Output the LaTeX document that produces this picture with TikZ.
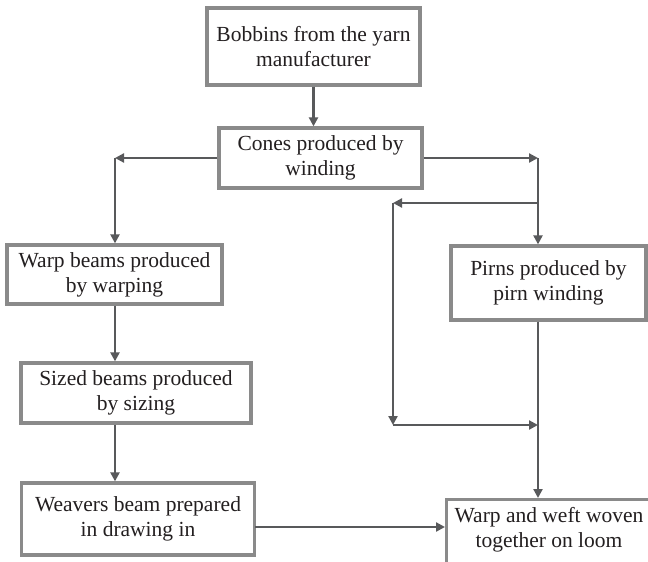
\documentclass[tikz,border=0pt]{standalone}
\usepackage{fontspec}
\setmainfont{Liberation Serif}
\usetikzlibrary{arrows.meta}
\definecolor{boxgray}{HTML}{8A8A8A}
\definecolor{linegray}{HTML}{58595B}
\definecolor{txtcol}{HTML}{231F20}
\begin{document}
\begin{tikzpicture}[x=1pt,y=-1pt,
  box/.style={draw=boxgray, line width=3.3pt, fill=white, align=center, text=txtcol,
    font=\fontsize{21.5}{25}\selectfont, inner sep=0pt},
  boxtext/.style={align=center, text=txtcol, font=\fontsize{21.5}{25}\selectfont, inner sep=0pt},
  arr/.style={draw=linegray, line width=2.2pt, -{Triangle[length=9pt,width=9pt]}}]
\useasboundingbox (0,0) rectangle (648,562);
\clip (0,0) rectangle (648,562);
\fill[white] (0,0) rectangle (648,562);

\node[box, minimum width=213pt, minimum height=77pt] (bob) at (313.5,46.5) {Bobbins from the yarn\\manufacturer};
\node[box, minimum width=203pt, minimum height=60pt] (cones) at (320.5,158) {Cones produced by\\winding};
\node[box, minimum width=215pt, minimum height=59pt] (warp) at (114.5,274.5) {Warp beams produced\\by warping};
\node[box, minimum width=230pt, minimum height=60pt] (sized) at (136,393) {Sized beams produced\\by sizing};
\node[box, minimum width=233pt, minimum height=72pt] (weav) at (138,519) {Weavers beam prepared\\in drawing in};
\node[box, minimum width=195pt, minimum height=74pt] (pirns) at (548.5,283) {Pirns produced by\\pirn winding};
\node[box, anchor=north west, minimum width=220pt, minimum height=90pt] (loom) at (445,498) {};
\node[boxtext] (loomtxt) at (549,530) {Warp and weft woven\\together on loom};

\coordinate (cL) at (115,158);
\coordinate (cR) at (538,158);
\coordinate (bT) at (538,203);
\coordinate (bL) at (393,203);
\coordinate (bB) at (393,425);
\coordinate (bR) at (538,425);
\coordinate (wvE) at (255,527);

\draw[arr] (bob.south) -- (bob.south |- cones.north);
\draw[arr] (cones.west) -- (cL);
\draw[arr] (cL) -- (cL |- warp.north);
\draw[arr] (cones.east) -- (cR);
\draw[arr] (cR) -- (cR |- pirns.north);
\draw[arr] (cL |- warp.south) -- (cL |- sized.north);
\draw[arr] (cL |- sized.south) -- (cL |- weav.north);
\draw[arr] (bT) -- (bL);
\draw[arr] (bL) -- (bB);
\draw[arr] (bB) -- (bR);
\draw[arr] (cR |- pirns.south) -- (cR |- loom.north);
\draw[arr] (wvE) -- (wvE -| loom.west);
\end{tikzpicture}
\end{document}
